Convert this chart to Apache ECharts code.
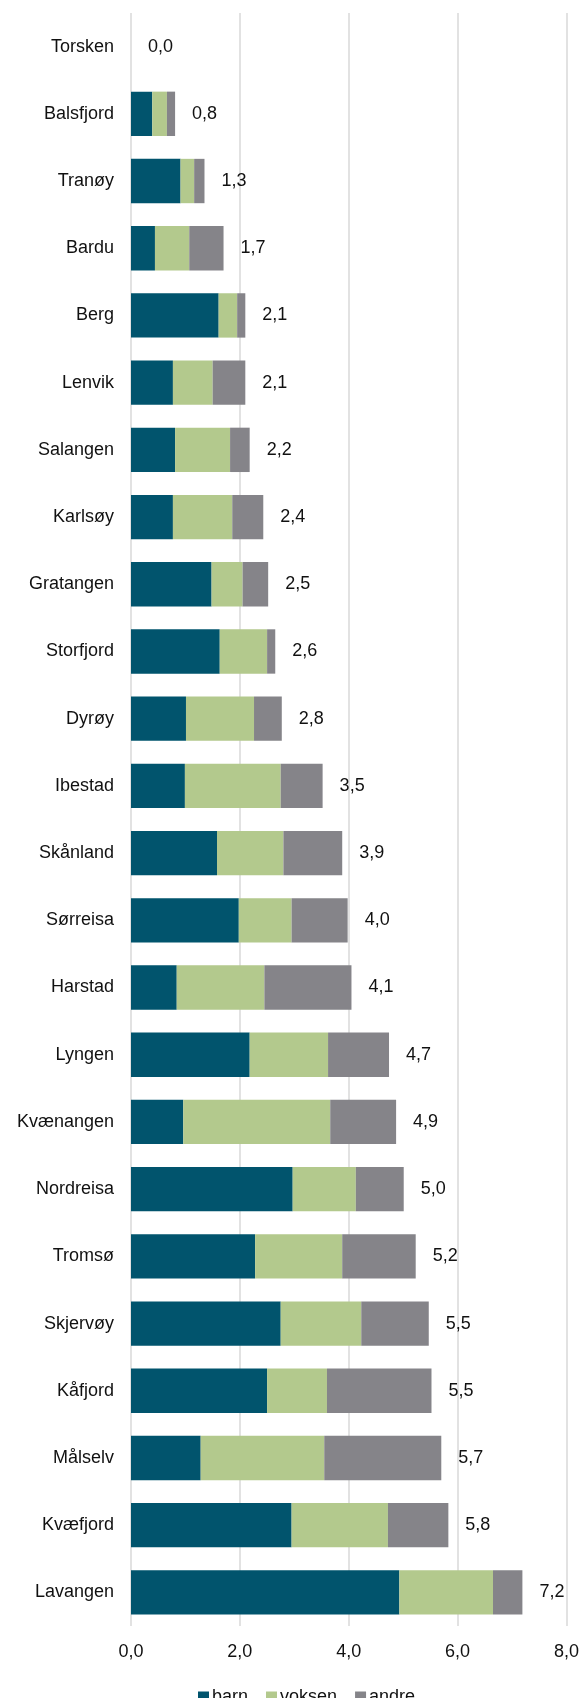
<!DOCTYPE html>
<html>
<head>
<meta charset="utf-8">
<script src="https://cdn.jsdelivr.net/npm/echarts@6/dist/echarts.min.js"></script>
<style>
html,body{margin:0;padding:0;background:#fff;}
#chart{width:582px;height:1698px;}
</style>
</head>
<body>
<div id="chart"></div>
<script>
const categories = ["Torsken","Balsfjord","Tranøy","Bardu","Berg","Lenvik","Salangen","Karlsøy","Gratangen","Storfjord","Dyrøy","Ibestad","Skånland","Sørreisa","Harstad","Lyngen","Kvænangen","Nordreisa","Tromsø","Skjervøy","Kåfjord","Målselv","Kvæfjord","Lavangen"];
const barn   = [0, 0.39, 0.91, 0.44, 1.61, 0.77, 0.81, 0.77, 1.48, 1.63, 1.01, 0.99, 1.58, 1.98, 0.84, 2.18, 0.96, 2.97, 2.28, 2.75, 2.50, 1.28, 2.95, 4.93];
const voksen = [0, 0.27, 0.25, 0.63, 0.34, 0.73, 1.01, 1.09, 0.57, 0.87, 1.25, 1.76, 1.22, 0.97, 1.61, 1.44, 2.70, 1.16, 1.60, 1.48, 1.10, 2.27, 1.77, 1.72];
const andre  = [0, 0.15, 0.19, 0.63, 0.15, 0.60, 0.36, 0.57, 0.47, 0.15, 0.51, 0.77, 1.08, 1.03, 1.60, 1.12, 1.21, 0.88, 1.35, 1.24, 1.92, 2.15, 1.11, 0.54];
const totalLabels = ["0,0","0,8","1,3","1,7","2,1","2,1","2,2","2,4","2,5","2,6","2,8","3,5","3,9","4,0","4,1","4,7","4,9","5,0","5,2","5,5","5,5","5,7","5,8","7,2"];
const xTicks = [0, 2, 4, 6, 8];

const chart = echarts.init(document.getElementById('chart'), null, {renderer: 'canvas'});
const font = 'Liberation Sans, Arial, sans-serif';
const colors = ['#01546D', '#B3C98D', '#858489'];

chart.setOption({
  animation: false,
  backgroundColor: '#ffffff',
  textStyle: {fontFamily: font},
  color: colors,
  grid: {left: 131, right: 15, top: 13, bottom: 72, containLabel: false},
  legend: {
    data: ['barn', 'voksen', 'andre'],
    left: 193, top: 1683,
    itemWidth: 11, itemHeight: 11, itemGap: 18,
    icon: 'rect',
    textStyle: {fontSize: 18, color: '#111', fontFamily: font, padding: [0, 0, 0, -2]}
  },
  xAxis: {
    type: 'value', min: xTicks[0], max: xTicks[xTicks.length - 1], interval: 2,
    axisLine: {show: false}, axisTick: {show: false},
    splitLine: {show: true, lineStyle: {color: '#d9d9d9', width: 1.5}},
    axisLabel: {
      fontSize: 18, color: '#111', margin: 17, fontFamily: font,
      formatter: v => v.toFixed(1).replace('.', ',')
    }
  },
  yAxis: {
    type: 'category', data: categories, inverse: true,
    axisLine: {show: false}, axisTick: {show: false},
    axisLabel: {fontSize: 18, color: '#111', margin: 17, fontFamily: font}
  },
  series: [
    {name: 'barn', type: 'bar', stack: 'tot', data: barn, barCategoryGap: '34%'},
    {name: 'voksen', type: 'bar', stack: 'tot', data: voksen, barCategoryGap: '34%'},
    {name: 'andre', type: 'bar', stack: 'tot', data: andre, barCategoryGap: '34%',
      label: {
        show: true, position: 'right', distance: 17,
        fontSize: 18, color: '#111', fontFamily: font,
        formatter: p => totalLabels[p.dataIndex]
      }
    }
  ]
});
</script>
</body>
</html>
